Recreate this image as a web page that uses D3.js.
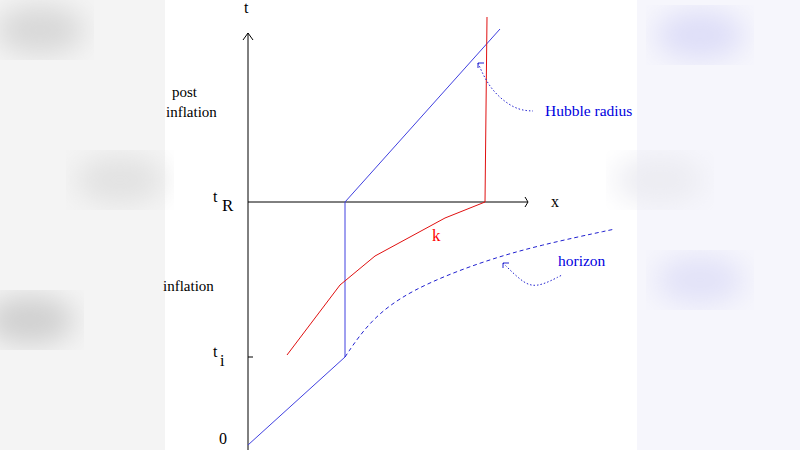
<!DOCTYPE html>
<html><head><meta charset="utf-8">
<script src="https://cdn.jsdelivr.net/npm/d3@7"></script>
<style>body{margin:0;background:#fff}svg{display:block}</style>
</head><body>
<script>
// diagram units: x to the right of the t axis, t upward from the origin
var hubble = [[0,0],[97,88],[97,243],[252,416]];
var mode = [[39,90],[92,160],[127,189],[197,227],[237,243],[239,428]];
var horizon = [[97,88],[122,125],[162,155],[232,183],[292,200],[367,216]];
var hubbleArrow = [[230,382],[242,355],[267,335],[285,334]];
var horizonArrow = [[255,182],[272,165],[287,156],[314,170]];
var tickLabels = [{t:0,main:"0",sub:""},{t:88,main:"t",sub:"i"},{t:243,main:"t",sub:"R"}];

var W = 800, H = 450;
var svg = d3.select("body").append("svg").attr("width", W).attr("height", H);
var defs = svg.append("defs");
defs.append("filter").attr("id","blur").append("feGaussianBlur").attr("stdDeviation", 14);

// blurred side panels
svg.append("rect").attr("x",0).attr("y",0).attr("width",165).attr("height",H).attr("fill","#f4f4f4");
svg.append("rect").attr("x",637).attr("y",0).attr("width",163).attr("height",H).attr("fill","#f6f6fc");
var blobs = [[40,30,"#d8d8d8"],[120,180,"#e2e2e2"],[30,320,"#d0d0d0"],[700,35,"#dedef8"],[700,280,"#e2e2f8"],[660,180,"#ececf2"]];
svg.selectAll("ellipse.blob").data(blobs).enter().append("ellipse")
    .attr("cx", function(d){return d[0];}).attr("cy", function(d){return d[1];})
    .attr("rx", 45).attr("ry", 25).attr("fill", function(d){return d[2];})
    .attr("filter","url(#blur)");

var x = d3.scaleLinear().domain([0, 280]).range([248, 528]);
var y = d3.scaleLinear().domain([0, 412]).range([445, 33]);
var line = d3.line().x(function(d){return x(d[0]);}).y(function(d){return y(d[1]);});
var curve = d3.line().x(function(d){return x(d[0]);}).y(function(d){return y(d[1]);}).curve(d3.curveBasis);

// axes
svg.append("line").attr("x1",x(0)).attr("x2",x(0)).attr("y1",y(-5)).attr("y2",y(412)).attr("stroke","#000");
svg.append("line").attr("x1",x(0)).attr("x2",x(280)).attr("y1",y(243)).attr("y2",y(243)).attr("stroke","#000");
svg.append("path").attr("d","M"+(x(0)-5)+","+(y(412)+7)+"L"+x(0)+","+y(412)+"L"+(x(0)+5)+","+(y(412)+7)).attr("fill","none").attr("stroke","#000");
svg.append("path").attr("d","M"+(x(280)-3)+","+(y(243)-5)+"L"+x(280)+","+y(243)+"L"+(x(280)-3)+","+(y(243)+5)).attr("fill","none").attr("stroke","#000");
svg.append("line").attr("x1",x(0)).attr("x2",x(5)).attr("y1",y(88)).attr("y2",y(88)).attr("stroke","#000");

var serif = "'Liberation Serif', 'DejaVu Serif', serif";
var g = svg.append("g").attr("font-family", serif).attr("font-size", 16);
g.append("text").attr("x",x(0)-4).attr("y",13).text("t");
g.append("text").attr("x",x(303)).attr("y",y(243)+5).text("x");
tickLabels.forEach(function(d){
    if (d.sub === "") {
        g.append("text").attr("x",219).attr("y",y(d.t)-1).text(d.main);
    } else {
        g.append("text").attr("x",213).attr("y",y(d.t)).text(d.main);
        g.append("text").attr("x",d.sub==="R"?222:220).attr("y",y(d.t)+9).attr("font-size",d.sub==="R"?17:16).text(d.sub);
    }
});
g.append("text").attr("x",172).attr("y",97).attr("font-size",15).text("post");
g.append("text").attr("x",166).attr("y",117).attr("font-size",15).text("inflation");
g.append("text").attr("x",163).attr("y",291).attr("font-size",15).text("inflation");
g.append("text").attr("x",545).attr("y",116).attr("font-size",15.5).attr("fill","#0000e0").text("Hubble radius");
g.append("text").attr("x",558).attr("y",266).attr("font-size",15.5).attr("fill","#0000e0").text("horizon");
g.append("text").attr("x",432).attr("y",241).attr("font-size",17).attr("fill","#ff0000").text("k");

// curves
svg.append("path").attr("d",line(hubble)).attr("fill","none").attr("stroke","#4040e0");
svg.append("path").attr("d",line(mode)).attr("fill","none").attr("stroke","#e01010");
svg.append("path").attr("d",curve(horizon)).attr("fill","none").attr("stroke","#2020d0").attr("stroke-dasharray","4,3");
[hubbleArrow, horizonArrow].forEach(function(a){
    svg.append("path").attr("d",curve(a)).attr("fill","none").attr("stroke","#2020d0").attr("stroke-dasharray","1.5,2");
    var p = a[0];
    svg.append("path").attr("d","M"+(x(p[0])+6)+","+y(p[1])+"L"+x(p[0])+","+y(p[1])+"L"+x(p[0])+","+(y(p[1])+5))
        .attr("fill","none").attr("stroke","#2020d0");
});
</script>
</body></html>
